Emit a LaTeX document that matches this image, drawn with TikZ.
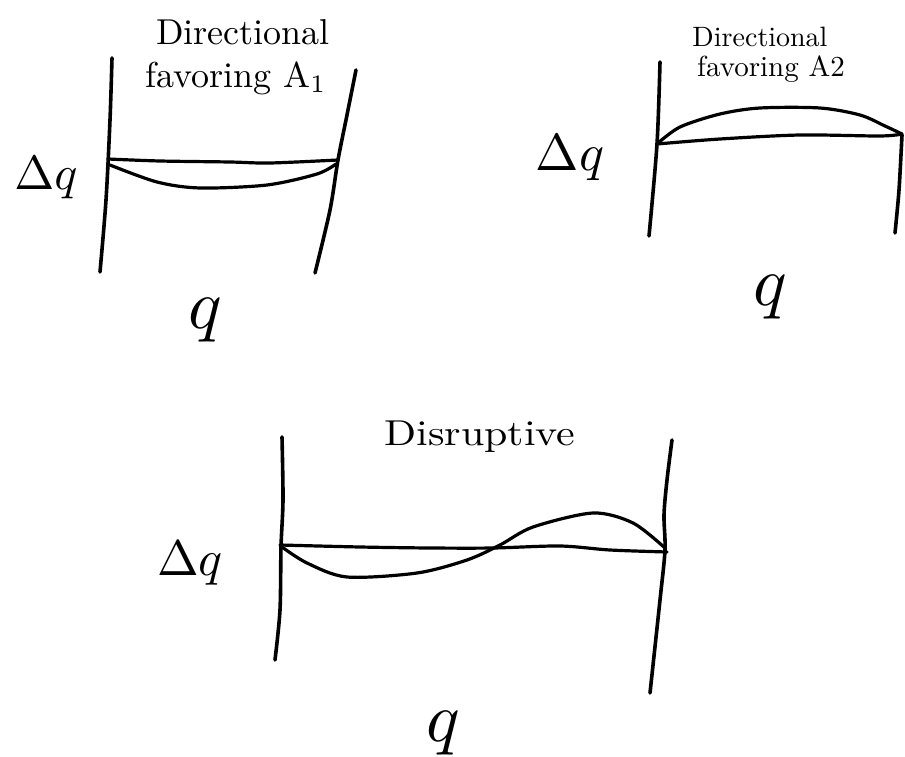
\documentclass[tikz,border=0pt]{standalone}
\usepackage{graphicx}
\begin{document}
\begin{tikzpicture}[x=1pt,y=-1pt,
  pen/.style={line width=3.6pt,line cap=round,line join=round},
  curvepen/.style={line width=3.2pt,line cap=round,line join=round},
  lbl/.style={inner sep=0pt}]
\useasboundingbox[fill=white] (0,0) rectangle (905,757);

% ---------- Panel 1: Directional favoring A1 ----------
\draw[pen] plot[smooth] coordinates {(112,58) (110,120) (106,200) (100,272)};
\draw[pen] plot[smooth] coordinates {(356,70) (347,115) (338,160) (330,210) (315,273)};
\draw[curvepen] plot[smooth] coordinates {(108,159) (160,161) (230,162) (270,163) (338,160)};
\draw[curvepen] plot[smooth] coordinates {(110,165) (157,182) (200,188) (267,185) (317,174) (336,164)};
\node[lbl] (t1a) at (243,32) {\scalebox{3.6}{Directional}};
\node[lbl] (t1b) at (236,78) {\scalebox{3.6}{favoring A$_1$}};
\node[lbl] (dq1) at (46,178) {\scalebox{4.8}{$\Delta q$}};
\node[lbl] (q1) at (205,320) {\scalebox{7}{$q$}};

% ---------- Panel 2: Directional favoring A2 ----------
\draw[pen] plot[smooth] coordinates {(660,62) (657,144) (649,236)};
\draw[pen] plot[smooth] coordinates {(902,135) (899,190) (895,233)};
\draw[curvepen] plot[smooth] coordinates {(657,144) (720,139) (800,135) (880,136) (902,134)};
\draw[curvepen] plot[smooth] coordinates {(657,144) (680,127) (720,114) (760,108) (820,108) (860,115) (885,126) (902,134)};
\node[lbl] (t2a) at (760,37) {\scalebox{2.8}{Directional}};
\node[lbl] (t2b) at (771,69) {\scalebox{2.9}{favoring A2}};
\node[lbl] (dq2) at (570,158) {\scalebox{5.2}{$\Delta q$}};
\node[lbl] (q2) at (770,297) {\scalebox{7}{$q$}};

% ---------- Panel 3: Disruptive ----------
\draw[pen] plot[smooth] coordinates {(282,437) (283,500) (281,547) (280,610) (275,660)};
\draw[pen] plot[smooth] coordinates {(672,440) (667,480) (664,515) (665,550) (660,600) (650,693)};
\draw[curvepen] plot[smooth] coordinates {(280,545) (360,547) (430,548) (493,548) (560,546) (610,550) (667,552)};
\draw[curvepen] plot[smooth] coordinates {(282,547) (307,563) (347,577) (417,573) (467,560) (500,545) (533,527) (593,513) (633,523) (665,548)};
\node[lbl] (t3) at (480,437) {\scalebox{4.2}[3.6]{Disruptive}};
\node[lbl] (dq3) at (190,563) {\scalebox{5}{$\Delta q$}};
\node[lbl] (q3) at (443,733) {\scalebox{7}{$q$}};
\end{tikzpicture}
\end{document}
